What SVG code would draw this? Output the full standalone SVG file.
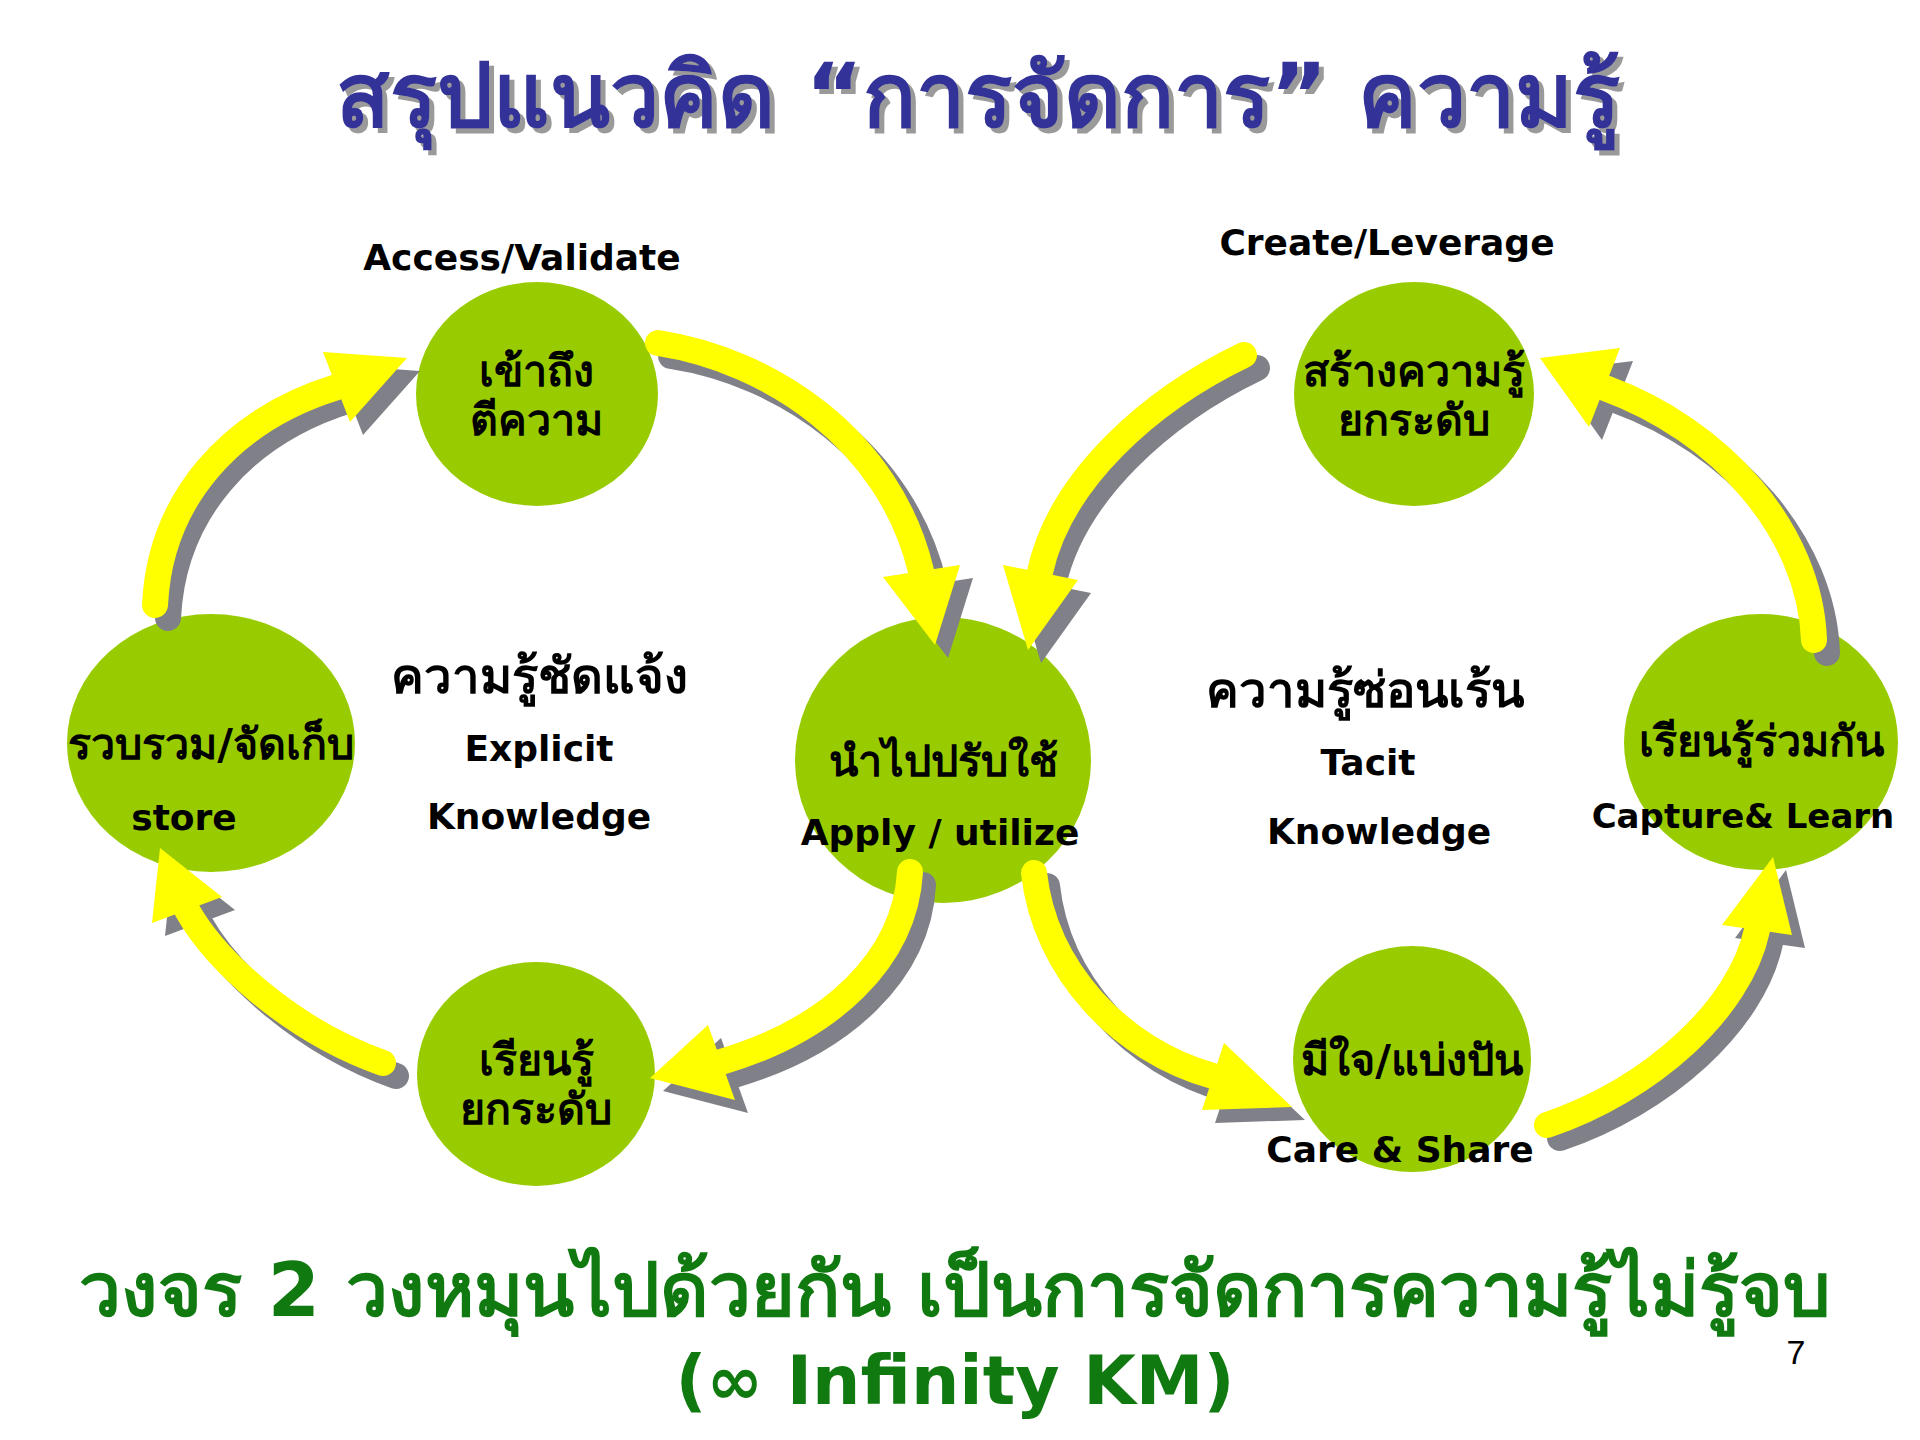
<svg xmlns="http://www.w3.org/2000/svg" width="1920" height="1440" viewBox="0 0 1920 1440">
<defs>
<style>
.node{fill:#99CC00}
.t{font-family:"DejaVu Sans","Noto Sans","Liberation Sans",sans-serif;font-weight:bold;fill:#000;text-anchor:middle}
.lbl{font-size:36px}
.th{font-size:43px}
.mid{font-size:49px}
.body{fill:none;stroke-width:26;stroke-linecap:round}
.head{stroke:none}
</style>
<filter id="tshadow" x="-5%" y="-20%" width="110%" height="150%">
<feOffset in="SourceAlpha" dx="5" dy="5" result="off"/>
<feFlood flood-color="#9a9a9a"/>
<feComposite in2="off" operator="in" result="sh"/>
<feMerge><feMergeNode in="sh"/><feMergeNode in="SourceGraphic"/></feMerge>
</filter>
<g id="arrows-shape">
<path class="body" d="M155,605 C160,500 230,420 337,387"/>
<polygon class="head" points="407,358 323,352 350,422"/>
<path class="body" d="M658,343 C770,360 890,440 921,571"/>
<polygon class="head" points="935,645 883,577 960,565"/>
<path class="body" d="M910,872 C905,960 830,1030 721,1062"/>
<polygon class="head" points="650,1078 708,1025 735,1100"/>
<path class="body" d="M383,1063 C290,1030 215,960 187,910"/>
<polygon class="head" points="160,848 152,923 222,897"/>
<path class="body" d="M1244,355 C1150,400 1060,480 1040,572"/>
<polygon class="head" points="1028,650 1003,565 1078,580"/>
<path class="body" d="M1034,873 C1045,970 1120,1050 1213,1076"/>
<polygon class="head" points="1292,1107 1224,1043 1202,1110"/>
<path class="body" d="M1547,1125 C1650,1090 1740,1010 1757,930"/>
<polygon class="head" points="1773,857 1722,925 1792,935"/>
<path class="body" d="M1814,640 C1810,530 1720,430 1605,388"/>
<polygon class="head" points="1540,358 1620,348 1589,427"/>
</g>
</defs>
<rect width="1920" height="1440" fill="#FFFFFF"/>
<g id="title">
<text x="978" y="126" class="t" filter="url(#tshadow)" style="font-size:88px;fill:#333399">สรุปแนวคิด “การจัดการ” ความรู้</text>
</g>
<g id="node-access">
<ellipse class="node" cx="537" cy="394" rx="121" ry="112"/>
<text class="t lbl" x="522" y="270">Access/Validate</text>
<text class="t th" x="536" y="386">เข้าถึง</text>
<text class="t th" x="536" y="435">ตีความ</text>
</g>
<g id="node-store">
<ellipse class="node" cx="211" cy="743" rx="144" ry="129"/>
<text class="t th" x="211" y="759">รวบรวม/จัดเก็บ</text>
<text class="t lbl" x="184" y="830">store</text>
</g>
<g id="node-learn">
<ellipse class="node" cx="536" cy="1074" rx="119" ry="112"/>
<text class="t th" x="536" y="1075">เรียนรู้</text>
<text class="t th" x="536" y="1124">ยกระดับ</text>
</g>
<g id="node-apply">
<ellipse class="node" cx="943" cy="760" rx="148" ry="143"/>
<text class="t th" x="943" y="776">นำไปปรับใช้</text>
<text class="t lbl" x="940" y="845">Apply / utilize</text>
</g>
<g id="node-create">
<ellipse class="node" cx="1414" cy="394" rx="120" ry="112"/>
<text class="t lbl" x="1387" y="255">Create/Leverage</text>
<text class="t th" x="1414" y="386">สร้างความรู้</text>
<text class="t th" x="1414" y="435">ยกระดับ</text>
</g>
<g id="node-capture">
<ellipse class="node" cx="1761" cy="742" rx="137" ry="128"/>
<text class="t th" x="1761" y="756">เรียนรู้ร่วมกัน</text>
<text class="t" style="font-size:34px" x="1743" y="828">Capture&amp; Learn</text>
</g>
<g id="node-care">
<ellipse class="node" cx="1412" cy="1059" rx="119" ry="113"/>
<text class="t th" x="1412" y="1075">มีใจ/แบ่งปัน</text>
<text class="t lbl" x="1400" y="1162">Care &amp; Share</text>
</g>
<g id="connectors">
<use href="#arrows-shape" stroke="#808088" fill="#808088" transform="translate(13,13)"/>
<use href="#arrows-shape" stroke="#FFFF00" fill="#FFFF00"/>
</g>
<g id="labels">
<text class="t mid" x="539" y="693">ความรู้ชัดแจ้ง</text>
<text class="t lbl" x="539" y="761">Explicit</text>
<text class="t lbl" x="539" y="829">Knowledge</text>
<text class="t mid" x="1365" y="707">ความรู้ซ่อนเร้น</text>
<text class="t lbl" x="1368" y="775">Tacit</text>
<text class="t lbl" x="1379" y="844">Knowledge</text>
</g>
<g id="footer">
<text class="t" x="955" y="1316" style="font-size:75px;fill:#107A10">วงจร 2 วงหมุนไปด้วยกัน เป็นการจัดการความรู้ไม่รู้จบ</text>
<text class="t" x="955" y="1404" style="font-size:68px;fill:#107A10">(∞ Infinity KM)</text>
<text x="1796" y="1364" style="font-family:'Liberation Sans',sans-serif;font-size:34px;fill:#000;text-anchor:middle">7</text>
</g>
</svg>
